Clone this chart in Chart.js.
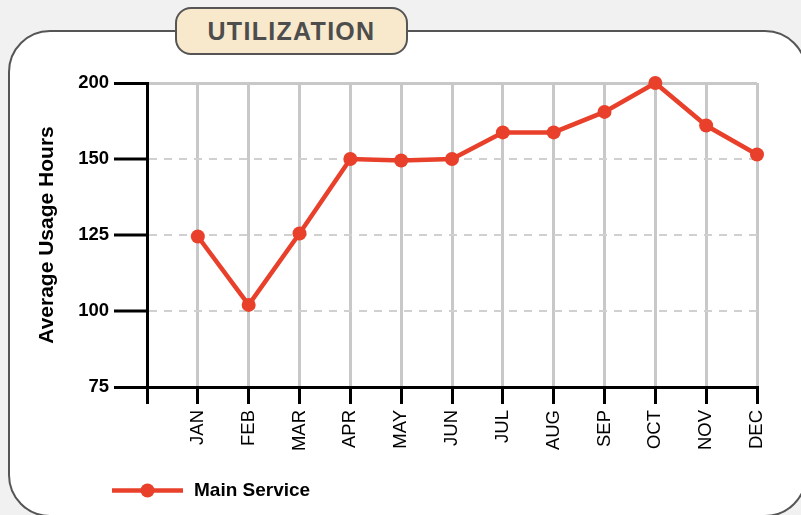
<!DOCTYPE html>
<html>
<head>
<meta charset="utf-8">
<script src="https://cdn.jsdelivr.net/npm/chart.js@4/dist/chart.umd.min.js"></script>
<style>
  html, body { margin: 0; padding: 0; }
  body { width: 801px; height: 515px; overflow: hidden; position: relative; background: #f1f1f1; font-family: "Liberation Sans", Arial, sans-serif; }
  .frame { position: absolute; left: 8px; top: 30px; width: 799px; height: 487px; box-sizing: border-box; border: 2.5px solid #555; border-radius: 42px; background: #fff; }
  #chart { position: absolute; left: 0; top: 0; }
  .title-box { position: absolute; left: 175px; top: 7px; width: 233px; height: 48px; box-sizing: border-box; border: 2.5px solid #555; border-radius: 16px; background: #f8e9cc; color: #4d4d4d; font-weight: bold; font-size: 25px; letter-spacing: 1.3px; text-align: center; line-height: 44px; }
</style>
</head>
<body>
<div class="frame"></div>
<canvas id="chart" width="801" height="515"></canvas>
<div class="title-box">UTILIZATION</div>
<script>
// --- DATA ---
const months = ['JAN', 'FEB', 'MAR', 'APR', 'MAY', 'JUN', 'JUL', 'AUG', 'SEP', 'OCT', 'NOV', 'DEC'];
const mainService = [124.5, 102, 125.5, 150, 149.5, 150, 167.5, 167.5, 181, 200, 172, 153];
const yTicks = [75, 100, 125, 150, 200];
const seriesName = 'Main Service';
const yTitle = 'Average Usage Hours';
const lineColor = '#e8402a';

Chart.defaults.font.family = '"Liberation Sans", Arial, sans-serif';
Chart.defaults.color = '#000';

// y axis with evenly spaced ticks (the gap 150 -> 200 is drawn like the others)
class StepLinearScale extends Chart.LinearScale {
    static id = 'stepLinear';
    static defaults = Chart.LinearScale.defaults;
    buildTicks() {
        return yTicks.map(v => ({ value: v }));
    }
    getPixelForValue(value) {
        let i = 0;
        while (i < yTicks.length - 2 && value > yTicks[i + 1]) i++;
        const t = i + (value - yTicks[i]) / (yTicks[i + 1] - yTicks[i]);
        return this.getPixelForDecimal(t / (yTicks.length - 1));
    }
}
Chart.register(StepLinearScale);

const legendPlugin = {
    id: 'lineLegend',
    afterDraw(chart) {
        const ctx = chart.ctx;
        const ds = chart.data.datasets[0];
        const y = 490.5;
        ctx.save();
        ctx.strokeStyle = ds.borderColor;
        ctx.lineWidth = 4.5;
        ctx.beginPath();
        ctx.moveTo(112, y);
        ctx.lineTo(183, y);
        ctx.stroke();
        ctx.fillStyle = ds.borderColor;
        ctx.beginPath();
        ctx.arc(147.5, y, 7, 0, Math.PI * 2);
        ctx.fill();
        ctx.fillStyle = '#000';
        ctx.font = 'bold 19px "Liberation Sans", Arial, sans-serif';
        ctx.textBaseline = 'middle';
        ctx.fillText(ds.label, 194, y);
        ctx.restore();
    }
};

const dashedValues = [100, 125, 150];

new Chart(document.getElementById('chart'), {
    type: 'line',
    data: {
        labels: [''].concat(months),
        datasets: [{
            label: seriesName,
            data: [null].concat(mainService),
            borderColor: lineColor,
            backgroundColor: lineColor,
            borderWidth: 4.5,
            pointRadius: 7,
            pointHoverRadius: 7,
            pointBorderWidth: 0,
            pointBackgroundColor: lineColor,
            tension: 0,
            clip: false
        }]
    },
    options: {
        responsive: false,
        animation: false,
        events: [],
        layout: { padding: { left: 0, top: 83, right: 44, bottom: 0 } },
        plugins: { legend: { display: false }, tooltip: { enabled: false } },
        scales: {
            x: {
                type: 'category',
                offset: false,
                afterFit: (scale) => { scale.height = 128; },
                ticks: { autoSkip: false, maxRotation: 90, minRotation: 90, padding: 6, color: '#000', font: { size: 18.5 } },
                grid: { color: '#c8c8c8', lineWidth: 3, tickColor: '#000', tickWidth: 3, tickLength: 17 },
                border: { color: '#000', width: 3 }
            },
            y: {
                type: 'stepLinear',
                min: 75,
                max: 200,
                afterFit: (scale) => { scale.width = 147; },
                ticks: { padding: 5, color: '#000', font: { size: 18.5, weight: 'bold' } },
                grid: {
                    color: (c) => (c.tick && dashedValues.includes(c.tick.value)) ? '#d0d0d0' : '#c8c8c8',
                    lineWidth: (c) => (c.tick && dashedValues.includes(c.tick.value)) ? 2 : 3,
                    tickColor: '#000', tickWidth: 3, tickLength: 33
                },
                border: {
                    color: '#000', width: 3,
                    dash: (c) => (c.tick && dashedValues.includes(c.tick.value)) ? [8, 7] : []
                },
                title: { display: true, text: yTitle, color: '#000', font: { size: 21, weight: 'bold' }, padding: { top: 35, bottom: 0 } }
            }
        }
    },
    plugins: [legendPlugin]
});
</script>
</body>
</html>
